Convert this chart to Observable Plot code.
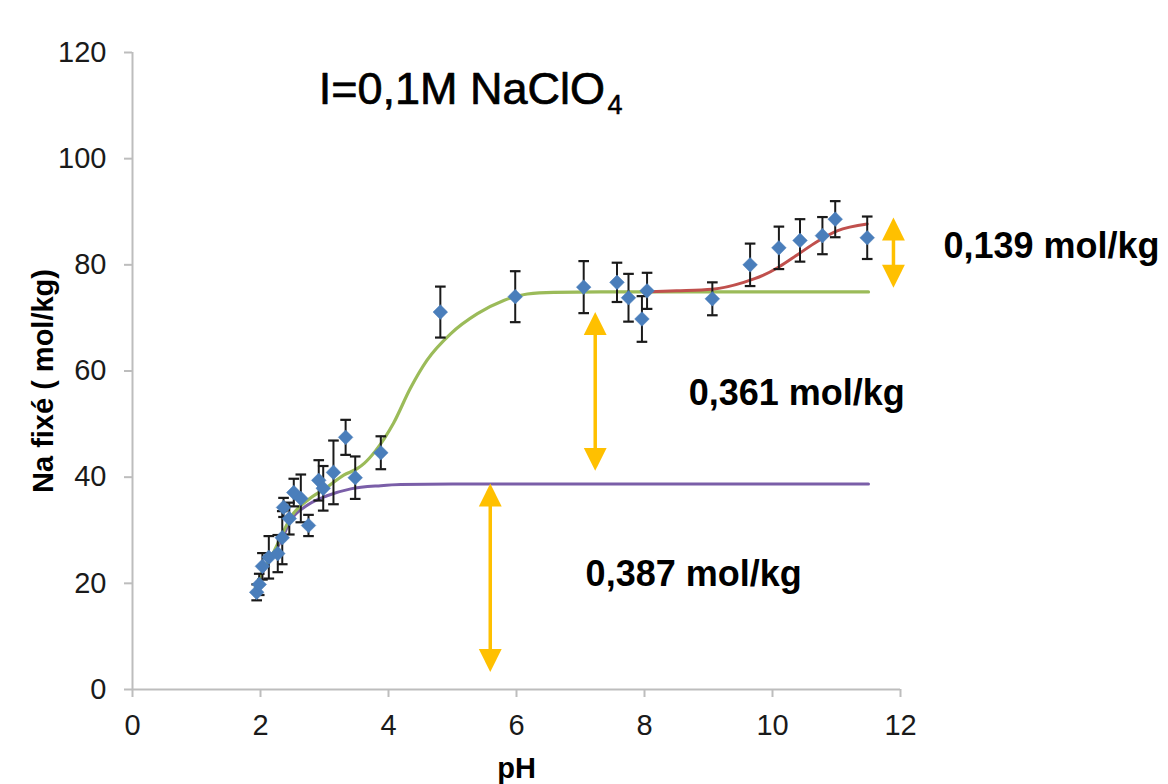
<!DOCTYPE html>
<html>
<head>
<meta charset="utf-8">
<script src="https://cdn.jsdelivr.net/npm/d3@7"></script>
<script src="https://cdn.jsdelivr.net/npm/@observablehq/plot@0.6"></script>
<style>
  html, body { margin: 0; padding: 0; background: #ffffff; }
  #chart svg { display: block; }
</style>
</head>
<body>
<div id="chart"></div>
<script>
// ---- Axis ticks ----
const xTicks = [0, 2, 4, 6, 8, 10, 12];
const yTicks = [0, 20, 40, 60, 80, 100, 120];

// ---- Measured points (pH, Na fixé, error) ----
const phData  = [1.94, 1.98, 2.03, 2.13, 2.27, 2.34, 2.36, 2.45, 2.52, 2.63, 2.75, 2.91, 2.98, 3.14, 3.33, 3.48, 3.88,
                 4.81, 5.98, 7.05, 7.57, 7.75, 7.96, 8.04, 9.06, 9.65, 10.10, 10.43, 10.78, 10.98, 11.48];
const naData  = [18.3, 19.8, 23.2, 24.9, 25.6, 28.6, 34.3, 32.2, 37.1, 36.0, 30.9, 39.4, 37.9, 40.9, 47.5, 39.9, 44.6,
                 71.1, 74.0, 75.8, 76.7, 73.8, 69.8, 75.1, 73.6, 80.0, 83.2, 84.6, 85.5, 88.6, 85.1];
const errData = [1.5, 2.0, 2.5, 4.0, 3.5, 5.0, 1.8, 3.0, 2.6, 4.5, 2.0, 3.8, 4.2, 6.0, 3.3, 4.0, 3.1,
                 4.8, 4.8, 4.9, 3.7, 4.5, 4.3, 3.4, 3.1, 4.0, 4.0, 4.0, 3.5, 3.4, 4.0];

// ---- Fitted curves ----
const purplePH = [1.92, 2.05, 2.21, 2.35, 2.47, 2.73, 3.04, 3.41, 3.88, 4.19, 5.0, 6.0, 8.0, 10.0, 11.5];
const purpleNa = [19.3, 22.4, 25.5, 28.8, 31.8, 34.7, 36.5, 37.8, 38.4, 38.6, 38.7, 38.7, 38.7, 38.7, 38.7];

const greenPH = [1.92, 2.05, 2.21, 2.35, 2.47, 2.73, 3.04, 3.30, 3.51, 3.62, 3.80, 4.08, 4.34, 4.60, 4.97, 5.39, 5.80, 6.17, 6.58, 7.5, 9.0, 11.5];
const greenNa = [19.3, 22.6, 26.0, 29.5, 32.4, 35.6, 38.1, 40.4, 41.6, 42.6, 45.0, 50.2, 56.7, 62.0, 67.0, 70.8, 73.3, 74.5, 74.8, 74.9, 74.9, 74.9];

const redPH = [7.98, 8.5, 9.06, 9.55, 9.85, 10.10, 10.39, 10.70, 11.01, 11.48];
const redNa = [74.9, 75.1, 75.4, 76.7, 78.0, 79.6, 81.9, 84.4, 86.4, 87.7];

// ---- Annotations (data coordinates) ----
const arrowX      = [5.59, 7.23, 11.89];
const arrowTop    = [38.8, 71.1, 88.9];
const arrowBottom = [3.3, 41.2, 75.7];

const noteText = ["0,139 mol/kg", "0,361 mol/kg", "0,387 mol/kg"];
const noteX    = [12.67, 8.69, 7.08];
const noteY    = [83.4, 55.7, 21.6];

const titleText = "I=0,1M NaClO";
const titleSub  = "4";
const yLabel = "Na fixé ( mol/kg)";
const xLabel = "pH";

// ---- Build tables ----
const points = phData.map((x, i) => ({x, y: naData[i], e: errData[i]}));
const purple = purplePH.map((x, i) => ({x, y: purpleNa[i]}));
const green  = greenPH.map((x, i) => ({x, y: greenNa[i]}));
const red    = redPH.map((x, i) => ({x, y: redNa[i]}));
const arrows = arrowX.map((x, i) => ({x, top: arrowTop[i], bottom: arrowBottom[i]}));
const notes  = noteText.map((t, i) => ({t, x: noteX[i], y: noteY[i]}));

// custom symbols
const capSymbol = { draw(ctx, size) { const w = Math.sqrt(size); ctx.moveTo(-w/2, 0); ctx.lineTo(w/2, 0); } };
const headSymbol = { draw(ctx, size) { const s = Math.sqrt(size); ctx.moveTo(0, 0); ctx.lineTo(-s/2, s); ctx.lineTo(s/2, s); ctx.closePath(); } };

const axisGray = "#bdbdbd";
const orange = "#FFC000";
const font = "'Liberation Sans', Arial, Helvetica, sans-serif";

const chart = Plot.plot({
  width: 1168,
  height: 784,
  marginLeft: 132,
  marginRight: 268,
  marginTop: 52,
  marginBottom: 95,
  style: {fontFamily: font, background: "#ffffff", color: "#1a1a1a"},
  x: {domain: [0, 12]},
  y: {domain: [0, 120]},
  marks: [
    Plot.axisX({ticks: xTicks, tickSize: 8, tickPadding: 17, fontSize: 29, stroke: axisGray, strokeWidth: 2, fill: "#1a1a1a", label: null}),
    Plot.axisY({ticks: yTicks, tickSize: 8, tickPadding: 18, fontSize: 29, stroke: axisGray, strokeWidth: 2, fill: "#1a1a1a", label: null}),
    Plot.ruleY([0], {stroke: axisGray, strokeWidth: 2}),
    Plot.ruleX([0], {stroke: axisGray, strokeWidth: 2}),

    // curves
    Plot.line(purple, {x: "x", y: "y", stroke: "#7a5ea8", strokeWidth: 3, curve: "monotone-x"}),
    Plot.line(green,  {x: "x", y: "y", stroke: "#9bbb59", strokeWidth: 3.2, curve: "monotone-x"}),
    Plot.line(red,    {x: "x", y: "y", stroke: "#c0504d", strokeWidth: 3, curve: "monotone-x"}),

    // error bars
    Plot.ruleX(points, {x: "x", y1: d => d.y - d.e, y2: d => d.y + d.e, stroke: "#1a1a1a", strokeWidth: 2}),
    Plot.dot(points, {x: "x", y: d => d.y + d.e, symbol: capSymbol, r: 6, stroke: "#1a1a1a", strokeWidth: 2.2, fill: "none"}),
    Plot.dot(points, {x: "x", y: d => d.y - d.e, symbol: capSymbol, r: 6, stroke: "#1a1a1a", strokeWidth: 2.2, fill: "none"}),

    // data points
    Plot.dot(points, {x: "x", y: "y", symbol: "diamond2", r: 6.6, fill: "#4a7ebb", stroke: "#4a7ebb", strokeWidth: 0.5}),

    // arrows
    Plot.ruleX(arrows, {x: "x", y1: "top", y2: "bottom", stroke: orange, strokeWidth: 3.5, insetTop: 10, insetBottom: 10}),
    Plot.dot(arrows, {x: "x", y: "top", symbol: headSymbol, r: 12.9, fill: orange, stroke: "none"}),
    Plot.dot(arrows, {x: "x", y: "bottom", symbol: headSymbol, r: 12.9, rotate: 180, fill: orange, stroke: "none"}),

    // annotations
    Plot.text(notes, {x: "x", y: "y", text: "t", textAnchor: "start", fontSize: 36, fontWeight: "bold", fill: "#000"}),
    Plot.text([titleText], {x: () => 2.91, y: () => 113.0, text: d => d, textAnchor: "start", fontSize: 45, fill: "#000", stroke: "#000", strokeWidth: 0.7}),
    Plot.text([titleSub], {x: () => 7.42, y: () => 110.1, text: d => d, textAnchor: "start", fontSize: 27, fill: "#000", stroke: "#000", strokeWidth: 0.5}),

    // axis titles
    Plot.text([yLabel], {frameAnchor: "left", text: d => d, rotate: -90, textAnchor: "middle", lineAnchor: "middle", dx: -89, dy: 10, fontSize: 29, fontWeight: "bold", fill: "#000"}),
    Plot.text([xLabel], {frameAnchor: "bottom", text: d => d, textAnchor: "middle", lineAnchor: "middle", dy: 79, fontSize: 29, fontWeight: "bold", fill: "#000"})
  ]
});

document.getElementById("chart").appendChild(chart);
</script>
</body>
</html>
